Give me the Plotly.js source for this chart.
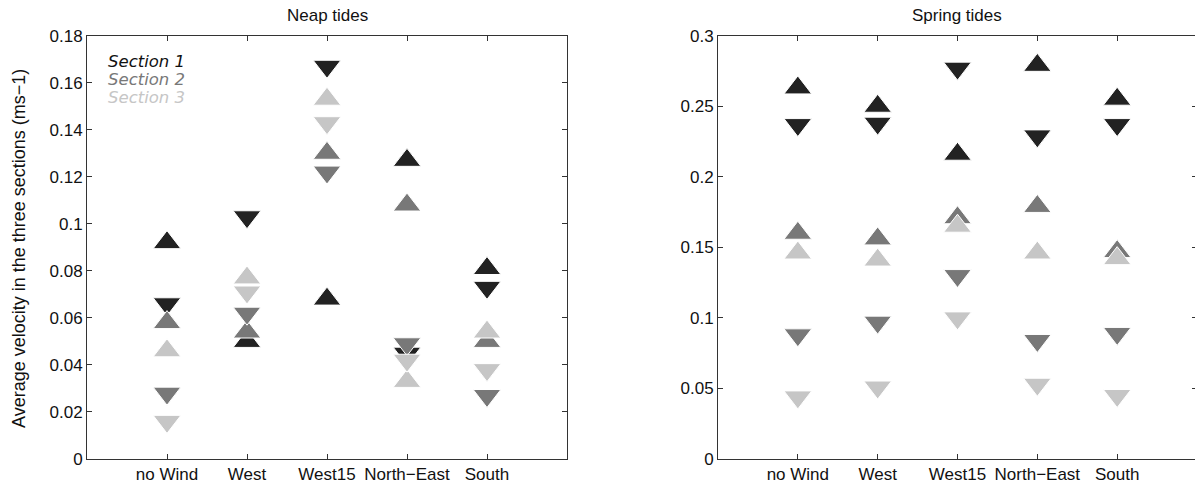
<!DOCTYPE html>
<html>
<head>
<meta charset="utf-8">
<script src="https://cdn.plot.ly/plotly-3.0.1.min.js"></script>
<style>
html, body { margin: 0; padding: 0; overflow: hidden; background: #fff; }
#chart { width: 1199px; height: 486px; }
</style>
</head>
<body>
<div id="chart"></div>
<script>
// Categories (wind scenarios)
const categories = ['no Wind', 'West', 'West15', 'North\u2212East', 'South'];
const sectionNames = ['Section 1', 'Section 2', 'Section 3'];
const panelTitles = ['Neap tides', 'Spring tides'];
const yTitle = 'Average velocity in the three sections (ms\u22121)';

// Neap tides (ms-1)
const neapS1Up   = [0.092, 0.050, 0.068, 0.127, 0.081];
const neapS1Down = [0.066, 0.103, 0.167, 0.045, 0.073];
const neapS2Up   = [0.058, 0.054, 0.130, 0.108, 0.050];
const neapS2Down = [0.028, 0.062, 0.122, 0.049, 0.027];
const neapS3Up   = [0.046, 0.077, 0.153, 0.033, 0.054];
const neapS3Down = [0.016, 0.071, 0.143, 0.042, 0.038];

// Spring tides (ms-1)
const springS1Up   = [0.263, 0.250, 0.216, 0.279, 0.255];
const springS1Down = [0.237, 0.238, 0.277, 0.229, 0.237];
const springS2Up   = [0.160, 0.156, 0.171, 0.179, 0.147];
const springS2Down = [0.088, 0.097, 0.130, 0.084, 0.089];
const springS3Up   = [0.146, 0.141, 0.165, 0.146, 0.142];
const springS3Down = [0.044, 0.051, 0.100, 0.053, 0.045];

const colors = ['#222222', '#787878', '#c6c6c6'];
const W = 1199, H = 486;
const px = v => v / W;
const py = v => (H - v) / H;

const neap = [[neapS1Up, neapS1Down], [neapS2Up, neapS2Down], [neapS3Up, neapS3Down]];
const spring = [[springS1Up, springS1Down], [springS2Up, springS2Down], [springS3Up, springS3Down]];

const traces = [];
function addPanel(sets, xa, ya) {
  sets.forEach((pair, s) => {
    pair.forEach((vals, k) => {
      traces.push({
        type: 'scatter', mode: 'markers',
        x: categories, y: vals,
        xaxis: xa, yaxis: ya,
        name: sectionNames[s], showlegend: false, hoverinfo: 'x+y+name',
        marker: {
          symbol: k === 0 ? 'triangle-up' : 'triangle-down',
          size: 24, color: colors[s],
          line: { color: '#ffffff', width: 1 }
        }
      });
    });
  });
}
addPanel(neap, 'x', 'y');
addPanel(spring, 'x2', 'y2');

const tickFont = { family: 'Liberation Sans, Arial, sans-serif', size: 17, color: '#111' };
const axisCommon = {
  showline: true, mirror: 'ticks', linecolor: '#333', linewidth: 1,
  ticks: 'inside', ticklen: 5, tickcolor: '#333', tickwidth: 1,
  showgrid: false, zeroline: false, tickfont: tickFont, fixedrange: true
};

const layout = {
  width: W, height: H,
  margin: { l: 0, r: 0, t: 0, b: 0 },
  paper_bgcolor: '#fff', plot_bgcolor: '#fff',
  showlegend: false,
  xaxis: Object.assign({}, axisCommon, {
    type: 'category', range: [-1, 5], domain: [px(87), px(567)], anchor: 'y'
  }),
  yaxis: Object.assign({}, axisCommon, {
    range: [0, 0.18], dtick: 0.02, tick0: 0, domain: [py(459), py(35.7)], anchor: 'x'
  }),
  xaxis2: Object.assign({}, axisCommon, {
    type: 'category', range: [-1, 5], domain: [px(718), px(1197)], anchor: 'y2'
  }),
  yaxis2: Object.assign({}, axisCommon, {
    range: [0, 0.3], dtick: 0.05, tick0: 0, domain: [py(459), py(35.7)], anchor: 'x2'
  }),
  annotations: [
    { text: panelTitles[0], xref: 'paper', yref: 'paper', x: px(327), y: py(16),
      xanchor: 'center', yanchor: 'middle', showarrow: false,
      font: { family: 'Liberation Sans, Arial, sans-serif', size: 17, color: '#111' } },
    { text: panelTitles[1], xref: 'paper', yref: 'paper', x: px(957), y: py(16),
      xanchor: 'center', yanchor: 'middle', showarrow: false,
      font: { family: 'Liberation Sans, Arial, sans-serif', size: 17, color: '#111' } },
    { text: yTitle, xref: 'paper', yref: 'paper', x: px(19), y: py(249),
      xanchor: 'center', yanchor: 'middle', showarrow: false, textangle: -90,
      font: { family: 'Liberation Sans, Arial, sans-serif', size: 18, color: '#111' } }
  ].concat(sectionNames.map((n, i) => ({
    text: '<i>' + n + '</i>', xref: 'paper', yref: 'paper',
    x: px(106), y: py(62 + 17.5 * i), xanchor: 'left', yanchor: 'middle', showarrow: false,
    font: { family: 'DejaVu Sans, sans-serif', size: 16.5, color: i === 0 ? '#111' : colors[i] }
  })))
};

Plotly.newPlot('chart', traces, layout, { displayModeBar: false, staticPlot: true });
</script>
</body>
</html>
